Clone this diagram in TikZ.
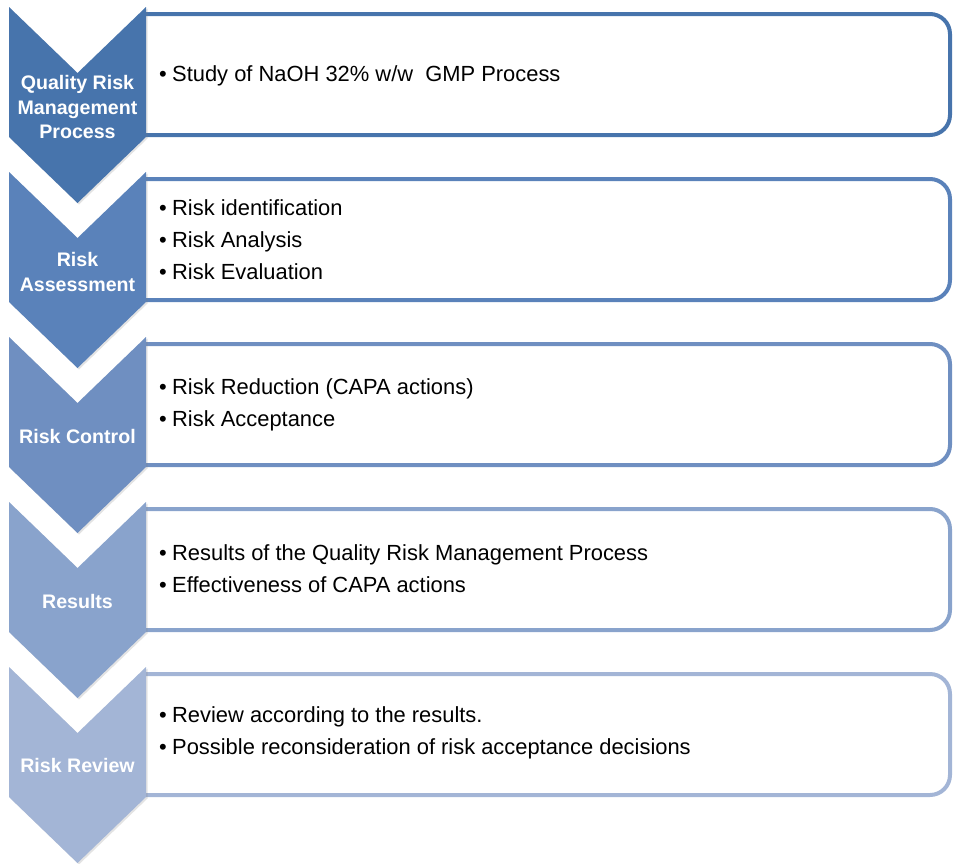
\documentclass[tikz,border=0pt]{standalone}
\usepackage{fontspec}
\setmainfont{Liberation Sans}
\usetikzlibrary{shadows}
\definecolor{stepA}{HTML}{4774AC}
\definecolor{stepB}{HTML}{5A82BA}
\definecolor{stepC}{HTML}{6F8FC1}
\definecolor{stepD}{HTML}{89A3CC}
\definecolor{stepE}{HTML}{A3B5D6}
\newcommand\blt[1]{\makebox[13pt][l]{•}#1}
\tikzset{
  chevron/.style={fill=#1, draw=none,
    drop shadow={opacity=0.22, shadow xshift=1.5pt, shadow yshift=-1.5pt}},
  detailbox/.style={draw=#1, line width=4pt, rounded corners=20pt},
  lbl/.style={text=white, align=center, inner sep=0pt,
    font=\fontsize{19.6}{24.5}\selectfont\bfseries},
  itemtext/.style={anchor=west, align=left, inner sep=0pt, text=black,
    font=\fontsize{21.9}{32}\selectfont}
}
\begin{document}
\begin{tikzpicture}[x=1pt,y=-1pt]
\useasboundingbox (0,0) rectangle (954,863);
% detail boxes (open on the left, where the chevrons cover them)
\foreach \i/\col in {0/stepA,1/stepB,2/stepC,3/stepD,4/stepE}{
  \pgfmathsetmacro\ytop{14+165*\i}
  \pgfmathsetmacro\ybot{135+165*\i}
  \draw[detailbox=\col] (146,\ytop) -- (950,\ytop) -- (950,\ybot) -- (146,\ybot);
}
% chevrons
\foreach \i/\col in {0/stepA,1/stepB,2/stepC,3/stepD,4/stepE}{
  \pgfmathsetmacro\ya{7+165*\i}
  \pgfmathsetmacro\yb{73+165*\i}
  \pgfmathsetmacro\yc{137+165*\i}
  \pgfmathsetmacro\yd{203+165*\i}
  \path[chevron=\col] (9,\ya) -- (77.5,\yb) -- (146,\ya) -- (146,\yc)
    -- (77.5,\yd) -- (9,\yc) -- cycle;
}
% step labels
\node[lbl] (l1) at (77.5,107) {Quality Risk\\Management\\Process};
\node[lbl] (l2) at (77.5,272) {Risk\\Assessment};
\node[lbl] (l3) at (77.5,436) {Risk Control};
\node[lbl] (l4) at (77.5,601) {Results};
\node[lbl] (l5) at (77.5,765) {Risk Review};
% step details
\node[itemtext] (t1) at (159,75.5) {\blt{Study of NaOH 32\% w/w~ GMP Process}};
\node[itemtext] (t2) at (159,239.5) {\blt{Risk identification}\\\blt{Risk Analysis}\\\blt{Risk Evaluation}};
\node[itemtext] (t3) at (159,404.5) {\blt{Risk Reduction (CAPA actions)}\\\blt{Risk Acceptance}};
\node[itemtext] (t4) at (159,568.5) {\blt{Results of the Quality Risk Management Process}\\\blt{Effectiveness of CAPA actions}};
\node[itemtext] (t5) at (159,732.5) {\blt{Review according to the results.}\\\blt{Possible reconsideration of risk acceptance decisions}};
\end{tikzpicture}
\end{document}
